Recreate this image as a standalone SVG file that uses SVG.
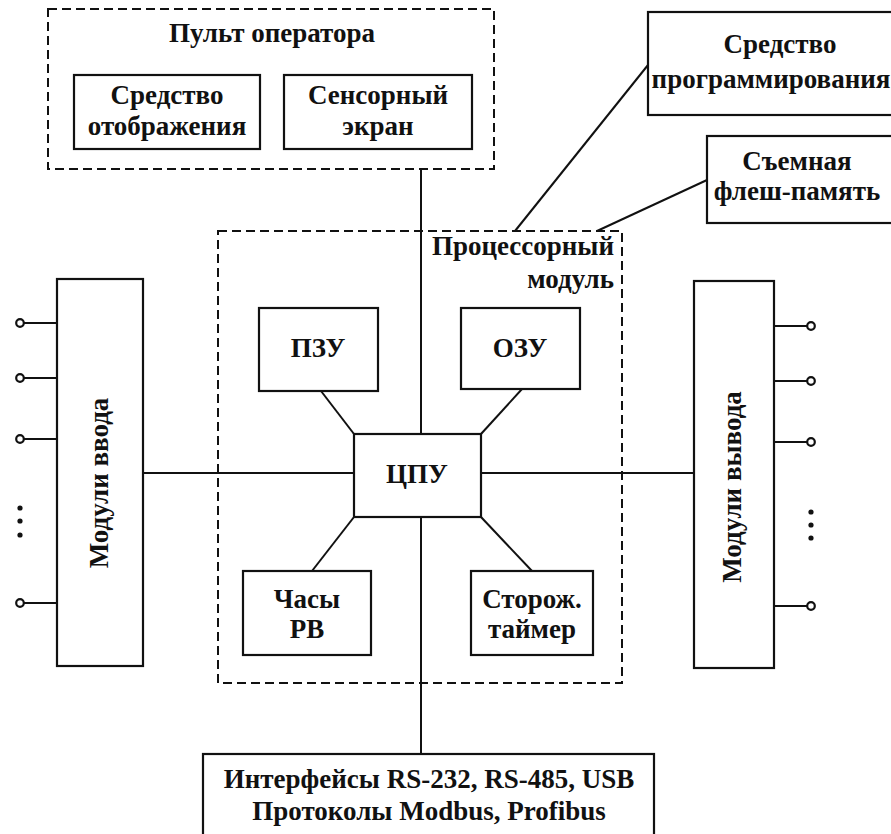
<svg xmlns="http://www.w3.org/2000/svg" width="891" height="834" viewBox="0 0 891 834">
<style>
.box{fill:#fff;stroke:#111;stroke-width:2.2}
.dash{fill:none;stroke:#111;stroke-width:2;stroke-dasharray:9 5}
.ln{stroke:#111;stroke-width:2;fill:none}
.pin{fill:#fff;stroke:#111;stroke-width:2.2}
.dot{fill:#111}
text{font-family:"Liberation Serif","Times New Roman",serif;font-weight:bold;font-size:27px;fill:#111;text-anchor:middle}
</style>
<rect width="891" height="834" fill="#fff"/>
<g id="connectors">
<line class="ln" x1="421" y1="169" x2="421" y2="434"/>
<line class="ln" x1="421" y1="517" x2="421" y2="754"/>
<line class="ln" x1="143" y1="473" x2="354" y2="473"/>
<line class="ln" x1="481" y1="473" x2="693" y2="473"/>
<line class="ln" x1="321" y1="391" x2="354" y2="434"/>
<line class="ln" x1="522" y1="389" x2="481" y2="434"/>
<line class="ln" x1="312" y1="571" x2="354" y2="517"/>
<line class="ln" x1="532" y1="571" x2="481" y2="517"/>
<line class="ln" x1="648" y1="65" x2="515" y2="231"/>
<line class="ln" x1="707" y1="180" x2="597" y2="231"/>
</g>
<g id="operator-panel">
<rect class="dash" x="48" y="9" width="446" height="160"/>
<text x="272" y="42">Пульт оператора</text>
</g>
<g id="display">
<rect class="box" x="74" y="75" width="186" height="74"/>
<text x="167" y="104">Средство</text>
<text x="167" y="135">отображения</text>
</g>
<g id="touchscreen">
<rect class="box" x="284" y="75" width="188" height="74"/>
<text x="378" y="104">Сенсорный</text>
<text x="378" y="135">экран</text>
</g>
<g id="programming">
<rect class="box" x="648" y="12" width="250" height="103"/>
<text x="780" y="53">Средство</text>
<text x="771" y="88">программирования</text>
</g>
<g id="flash">
<rect class="box" x="707" y="136" width="190" height="87"/>
<text x="797" y="170">Съемная</text>
<text x="797" y="200">флеш-память</text>
</g>
<g id="processor-module">
<rect class="dash" x="218" y="231" width="404" height="452"/>
<text x="614" y="255" style="text-anchor:end">Процессорный</text>
<text x="614" y="288" style="text-anchor:end">модуль</text>
</g>
<g id="rom">
<rect class="box" x="259" y="308" width="119" height="83"/>
<text x="318" y="357">ПЗУ</text>
</g>
<g id="ram">
<rect class="box" x="461" y="308" width="119" height="81"/>
<text x="520" y="357">ОЗУ</text>
</g>
<g id="cpu">
<rect class="box" x="354" y="434" width="127" height="83"/>
<text x="417" y="483">ЦПУ</text>
</g>
<g id="rtc">
<rect class="box" x="243" y="571" width="128" height="84"/>
<text x="307" y="608">Часы</text>
<text x="307" y="638">РВ</text>
</g>
<g id="watchdog">
<rect class="box" x="471" y="571" width="122" height="84"/>
<text x="532" y="608">Сторож.</text>
<text x="532" y="638">таймер</text>
</g>
<g id="input-modules">
<rect class="box" x="57" y="279" width="86" height="387"/>
<text transform="translate(108,483) rotate(-90)">Модули ввода</text>
<line class="ln" x1="24" y1="323" x2="57" y2="323"/>
<line class="ln" x1="24" y1="378" x2="57" y2="378"/>
<line class="ln" x1="24" y1="439" x2="57" y2="439"/>
<line class="ln" x1="24" y1="603" x2="57" y2="603"/>
<circle class="pin" cx="20" cy="323" r="3.8"/>
<circle class="pin" cx="20" cy="378" r="3.8"/>
<circle class="pin" cx="20" cy="439" r="3.8"/>
<circle class="pin" cx="20" cy="603" r="3.8"/>
<circle class="dot" cx="20" cy="508" r="2.6"/>
<circle class="dot" cx="20" cy="521" r="2.6"/>
<circle class="dot" cx="20" cy="535" r="2.6"/>
</g>
<g id="output-modules">
<rect class="box" x="694" y="281" width="80" height="387"/>
<text transform="translate(741,487) rotate(-90)">Модули вывода</text>
<line class="ln" x1="774" y1="326" x2="807" y2="326"/>
<line class="ln" x1="774" y1="381" x2="807" y2="381"/>
<line class="ln" x1="774" y1="442" x2="807" y2="442"/>
<line class="ln" x1="774" y1="606" x2="807" y2="606"/>
<circle class="pin" cx="811" cy="326" r="3.8"/>
<circle class="pin" cx="811" cy="381" r="3.8"/>
<circle class="pin" cx="811" cy="442" r="3.8"/>
<circle class="pin" cx="811" cy="606" r="3.8"/>
<circle class="dot" cx="811" cy="512" r="2.6"/>
<circle class="dot" cx="811" cy="525" r="2.6"/>
<circle class="dot" cx="811" cy="538" r="2.6"/>
</g>
<g id="interfaces">
<rect class="box" x="203" y="754" width="451" height="90"/>
<text x="429" y="788">Интерфейсы RS-232, RS-485, USB</text>
<text x="429" y="820">Протоколы Modbus, Profibus</text>
</g>
</svg>
